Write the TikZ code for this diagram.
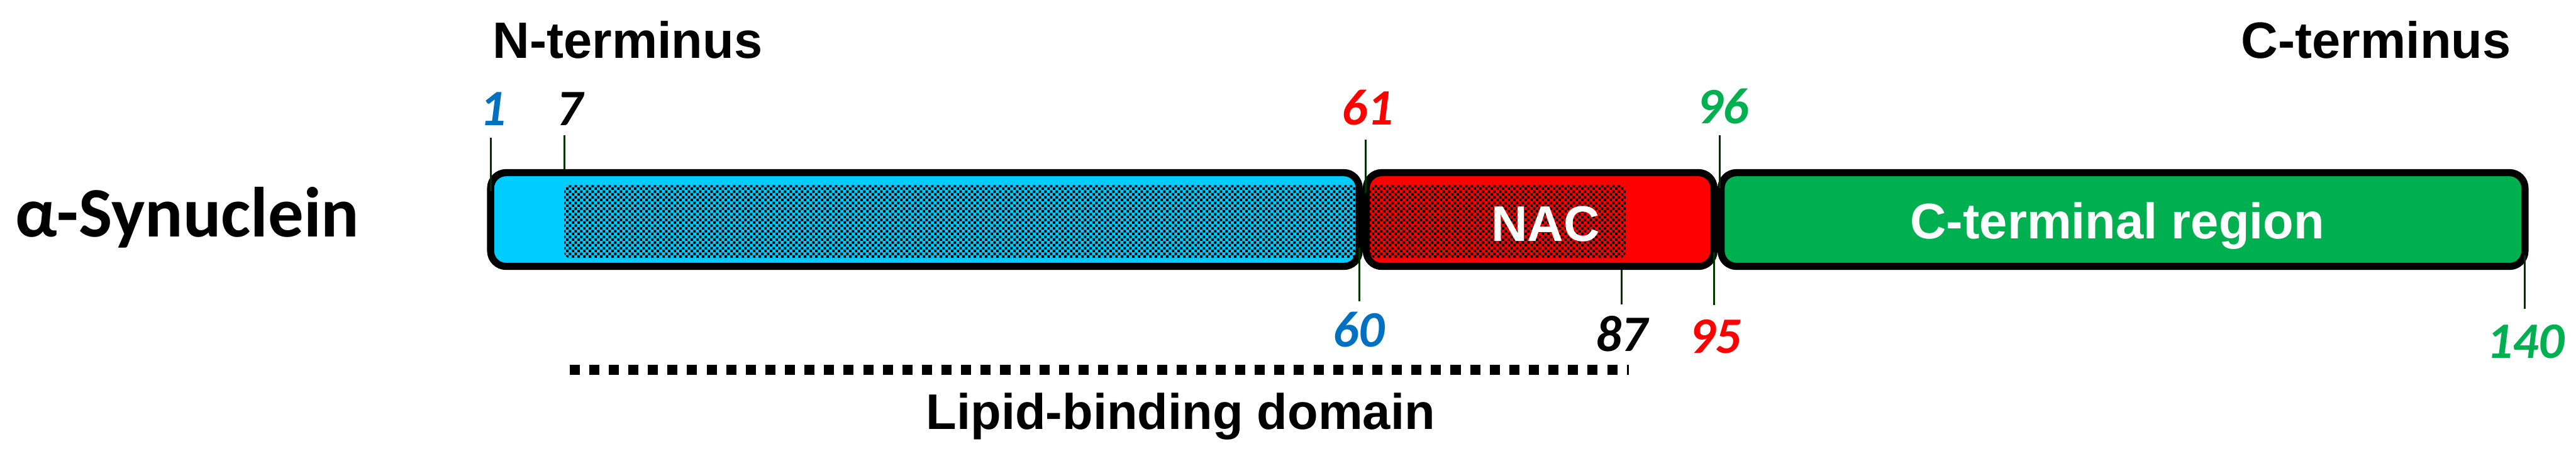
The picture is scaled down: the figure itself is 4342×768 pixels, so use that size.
\documentclass[tikz,border=0pt]{standalone}
\usepackage{fontspec}
\setmainfont{Liberation Sans}
\newfontfamily\calfont{Carlito}
\newfontfamily\numfont{Carlito Bold Italic}
\usetikzlibrary{positioning,patterns}

\definecolor{nblue}{HTML}{00CCFF}
\definecolor{nacred}{HTML}{FF0000}
\definecolor{cgreen}{HTML}{00B050}
\definecolor{numblue}{HTML}{0070C0}
\definecolor{tickgreen}{HTML}{003300}

\pgfdeclarepatternformonly{checks}{\pgfqpoint{0pt}{0pt}}{\pgfqpoint{2.8pt}{2.8pt}}{\pgfqpoint{2.8pt}{2.8pt}}{%
  \pgfpathrectangle{\pgfqpoint{0pt}{0pt}}{\pgfqpoint{1.3pt}{1.3pt}}%
  \pgfpathrectangle{\pgfqpoint{1.4pt}{1.4pt}}{\pgfqpoint{1.3pt}{1.3pt}}%
  \pgfusepath{fill}}

\begin{document}
\begin{tikzpicture}[x=0.1mm,y=-0.1mm,
    segbox/.style={draw=black,line width=1.2mm,rounded corners=2.6mm,minimum height=15.8mm,inner sep=0pt},
    mesh/.style={pattern=checks,rounded corners=1mm},
    tick/.style={draw=tickgreen,line width=0.3mm},
    num/.style={font=\numfont\fontsize{24.5}{24.5}\selectfont,anchor=base,inner sep=0pt},
    head/.style={font=\bfseries\fontsize{24.5}{24.5}\selectfont,inner sep=0pt},
    inlbl/.style={font=\bfseries\fontsize{24}{24}\selectfont,anchor=base,inner sep=0pt}]
  \useasboundingbox (0,0) rectangle (4342,768);

  \node[font=\calfont\bfseries\fontsize{34}{34}\selectfont,anchor=base west,inner sep=0pt] (syn) at (25,399) {α-Synuclein};
  \node[head,anchor=base west] (nt) at (830,98) {N-terminus};
  \node[head,anchor=base east] (ct) at (4233,98) {C-terminus};

  % domains
  \node[segbox,fill=nblue,minimum width=146.4mm,anchor=west] (nterm) at (821,370) {};
  \node[segbox,fill=nacred,minimum width=58.6mm,right=0mm of nterm] (nac) {};
  \node[segbox,fill=cgreen,minimum width=135.5mm,right=0mm of nac] (cterm) {};
  \path[mesh] (951,312) rectangle (2287,435);
  \path[mesh] (2309,312) rectangle (2740,435);
  \node[inlbl,text=white] (naclbl) at (2605,407) {NAC};
  \node[inlbl,text=white] (ctlbl) at (3569,402) {C-terminal region};

  % residue numbers
  \node[num,text=numblue] (n1) at (831,212) {1};
  \node[num] (n7) at (960,212) {7};
  \node[num,text=nacred] (n61) at (2305,210) {61};
  \node[num,text=cgreen] (n96) at (2904,208) {96};
  \node[num,text=numblue] (n60) at (2290,585) {60};
  \node[num] (n87) at (2733,592) {87};
  \node[num,text=nacred] (n95) at (2891,595) {95};
  \node[num,text=cgreen] (n140) at (4257,604) {140};

  \coordinate (a1) at (827,232);    \coordinate (b1) at (827,322);
  \coordinate (a7) at (951,228);    \coordinate (b7) at (951,285);
  \coordinate (a61) at (2302,235);  \coordinate (b61) at (2302,325);
  \coordinate (a96) at (2899,228);  \coordinate (b96) at (2899,317);
  \coordinate (a60) at (2291,418);  \coordinate (b60) at (2291,508);
  \coordinate (a87) at (2733,455);  \coordinate (b87) at (2733,513);
  \coordinate (a95) at (2889,425);  \coordinate (b95) at (2889,514);
  \coordinate (a140) at (4256,430); \coordinate (b140) at (4256,520);
  \draw[tick] (a1) -- (b1);
  \draw[tick] (a7) -- (b7);
  \draw[tick] (a61) -- (b61);
  \draw[tick] (a96) -- (b96);
  \draw[tick] (a60) -- (b60);
  \draw[tick] (a87) -- (b87);
  \draw[tick] (a95) -- (b95);
  \draw[tick] (a140) -- (b140);

  % lipid-binding stretch
  \coordinate (ldl) at (960,623);
  \coordinate (ldr) at (2745,623);
  \draw[line width=1.7mm,dash pattern=on 1.7mm off 1.6mm] (ldl) -- (ldr);
  \node[inlbl] (lipid) at (1990,723) {Lipid-binding domain};
\end{tikzpicture}
\end{document}
